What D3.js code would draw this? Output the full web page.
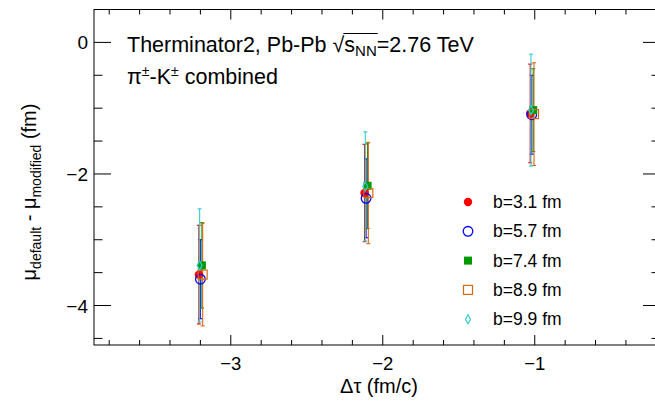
<!DOCTYPE html>
<html>
<head>
<meta charset="utf-8">
<script src="https://cdn.jsdelivr.net/npm/d3@7"></script>
<style>
  body { margin: 0; background: #fff; }
  svg { display: block; font-family: "Liberation Sans", Arial, Helvetica, sans-serif; }
</style>
</head>
<body>
<div class="chart"></div>
<script>

////////// DATA //////////

var seriesNames = ["b=3.1 fm", "b=5.7 fm", "b=7.4 fm", "b=8.9 fm", "b=9.9 fm"];

// delta tau positions (slightly shifted per series, as in the plot)
var xRed    = [-3.21, -2.12, -1.03];
var xBlue   = [-3.20, -2.11, -1.02];
var xGreen  = [-3.19, -2.10, -1.01];
var xOrange = [-3.185, -2.095, -1.005];
var xCyan   = [-3.205, -2.115, -1.025];

// mu_default - mu_modified (fm)
var yRed    = [-3.53, -2.29, -1.08];
var yBlue   = [-3.60, -2.37, -1.10];
var yGreen  = [-3.39, -2.18, -1.03];
var yOrange = [-3.53, -2.29, -1.09];
var yCyan   = [-3.39, -2.19, -1.03];

// errors
var eRed    = [0.75, 0.74, 0.75];
var eBlue   = [0.60, 0.60, 0.60];
var eGreen  = [0.65, 0.65, 0.63];
var eOrange = [0.78, 0.77, 0.78];
var eCyan   = [0.86, 0.83, 0.85];

var xTicks = [-3, -2, -1];
var yTicks = [0, -2, -4];


////////// SETUP //////////

var width = 655, height = 401;
var frame = { left: 94, right: 660, top: 9.5, bottom: 345 };

var x = d3.scaleLinear()
    .domain([-3.9, -0.176])
    .range([frame.left, frame.right]);

var y = d3.scaleLinear()
    .domain([-4.6, 0.5])
    .range([frame.bottom, frame.top]);

var series = [
  { name: seriesNames[0], xs: xRed,    ys: yRed,    es: eRed,    color: "#ff0000", marker: "circleFilled" },
  { name: seriesNames[1], xs: xBlue,   ys: yBlue,   es: eBlue,   color: "#0000ff", marker: "circleOpen" },
  { name: seriesNames[2], xs: xGreen,  ys: yGreen,  es: eGreen,  color: "#009900", marker: "squareFilled" },
  { name: seriesNames[3], xs: xOrange, ys: yOrange, es: eOrange, color: "#d46a16", marker: "squareOpen" },
  { name: seriesNames[4], xs: xCyan,   ys: yCyan,   es: eCyan,   color: "#33cccc", marker: "diamondOpen" }
];

var svg = d3.select(".chart")
    .append("svg")
    .attr("width", width)
    .attr("height", height);


////////// AXES / FRAME //////////

var axes = svg.append("g").attr("class", "axes")
    .attr("stroke", "#000")
    .attr("stroke-width", 1)
    .attr("fill", "none");

axes.append("rect")
    .attr("x", frame.left)
    .attr("y", frame.top)
    .attr("width", frame.right - frame.left)
    .attr("height", frame.bottom - frame.top);

var xMinor = d3.range(-3.8, -0.15, 0.2);
var yMinor = d3.range(-4.5, 0.51, 0.5);

function isMajor(v, list) {
  return list.some(function(t) { return Math.abs(t - v) < 1e-6; });
}

// x ticks (bottom and top)
xMinor.forEach(function(v) {
  var len = isMajor(v, xTicks) ? 10 : 5;
  axes.append("line")
      .attr("x1", x(v)).attr("x2", x(v))
      .attr("y1", frame.bottom).attr("y2", frame.bottom - len);
  axes.append("line")
      .attr("x1", x(v)).attr("x2", x(v))
      .attr("y1", frame.top).attr("y2", frame.top + len);
});

// y ticks (left and right)
yMinor.forEach(function(v) {
  var len = isMajor(v, yTicks) ? 17 : 8.5;
  axes.append("line")
      .attr("x1", frame.left).attr("x2", frame.left + len)
      .attr("y1", y(v)).attr("y2", y(v));
  axes.append("line")
      .attr("x1", frame.right).attr("x2", frame.right - len)
      .attr("y1", y(v)).attr("y2", y(v));
});

function fmt(v) { return v < 0 ? "\u2212" + Math.abs(v) : String(v); }

svg.append("g").attr("class", "xlabels")
  .selectAll("text")
    .data(xTicks)
    .enter()
    .append("text")
    .attr("x", x)
    .attr("y", 369.5)
    .attr("text-anchor", "middle")
    .attr("font-size", 18.5)
    .text(fmt);

svg.append("g").attr("class", "ylabels")
  .selectAll("text")
    .data(yTicks)
    .enter()
    .append("text")
    .attr("x", 88)
    .attr("y", function(d) { return y(d) + 7; })
    .attr("text-anchor", "end")
    .attr("font-size", 19)
    .text(fmt);

// x title
svg.append("text")
    .attr("x", 379)
    .attr("y", 393)
    .attr("text-anchor", "middle")
    .attr("font-size", 20)
    .text("\u0394\u03c4 (fm/c)");

// y title
var yt = svg.append("text")
    .attr("transform", "translate(36," + 192 + ") rotate(-90)")
    .attr("text-anchor", "middle")
    .attr("font-size", 20);
yt.append("tspan").text("\u03bc");
yt.append("tspan").attr("font-size", 14).attr("dy", 5).text("default");
yt.append("tspan").attr("dy", -5).text(" - \u03bc");
yt.append("tspan").attr("font-size", 14).attr("dy", 5).text("modified");
yt.append("tspan").attr("dy", -5).text(" (fm)");


////////// ANNOTATION //////////

var note = svg.append("g").attr("class", "note").attr("font-size", 21.5);

var line1 = note.append("text").attr("x", 127).attr("y", 52);
line1.append("tspan").text("Therminator2, Pb-Pb ");
line1.append("tspan").text("\u221a");
line1.append("tspan").text("s");
line1.append("tspan").attr("font-size", 15).attr("dy", 4).text("NN");
line1.append("tspan").attr("dy", -4).text("=2.76 TeV");

// overline of the square root, spanning s_NN
var t1 = line1.node();
var rootEnd = t1.getEndPositionOfChar(20).x;
var nnEnd = t1.getEndPositionOfChar(23).x;
note.append("line")
    .attr("x1", rootEnd - 1).attr("x2", nnEnd + 1)
    .attr("y1", 33.5).attr("y2", 33.5)
    .attr("stroke", "#000").attr("stroke-width", 1.2);

var line2 = note.append("text").attr("x", 127).attr("y", 84);
line2.append("tspan").text("\u03c0");
line2.append("tspan").attr("font-size", 14).attr("dy", -8).text("\u00b1");
line2.append("tspan").attr("dy", 8).text("-K");
line2.append("tspan").attr("font-size", 14).attr("dy", -8).text("\u00b1");
line2.append("tspan").attr("dy", 8).text(" combined");


////////// MARKERS //////////

function drawMarker(g, type, cx, cy, color) {
  if (type === "circleFilled") {
    g.append("circle").attr("cx", cx).attr("cy", cy).attr("r", 4.2).attr("fill", color);
  } else if (type === "circleOpen") {
    g.append("circle").attr("cx", cx).attr("cy", cy).attr("r", 4.8)
        .attr("fill", "none").attr("stroke", color).attr("stroke-width", 1.3);
  } else if (type === "squareFilled") {
    g.append("rect").attr("x", cx - 4).attr("y", cy - 4).attr("width", 8).attr("height", 8).attr("fill", color);
  } else if (type === "squareOpen") {
    g.append("rect").attr("x", cx - 4.5).attr("y", cy - 4.5).attr("width", 9).attr("height", 9)
        .attr("fill", "none").attr("stroke", color).attr("stroke-width", 1.2);
  } else {
    g.append("path")
        .attr("d", "M" + cx + "," + (cy - 4.5) + "L" + (cx + 2.5) + "," + cy + "L" + cx + "," + (cy + 4.5) + "L" + (cx - 2.5) + "," + cy + "Z")
        .attr("fill", "none").attr("stroke", color).attr("stroke-width", 1.2);
  }
}

var plot = svg.append("g").attr("class", "points");

// error bars first
series.forEach(function(s) {
  var g = plot.append("g").attr("stroke", s.color).attr("stroke-width", 1.1);
  s.xs.forEach(function(xv, i) {
    var px = x(xv), top = y(s.ys[i] + s.es[i]), bot = y(s.ys[i] - s.es[i]);
    g.append("line").attr("x1", px).attr("x2", px).attr("y1", top).attr("y2", bot);
    g.append("line").attr("x1", px - 2).attr("x2", px + 2).attr("y1", top).attr("y2", top);
    g.append("line").attr("x1", px - 2).attr("x2", px + 2).attr("y1", bot).attr("y2", bot);
  });
});

series.forEach(function(s) {
  var g = plot.append("g");
  s.xs.forEach(function(xv, i) {
    drawMarker(g, s.marker, x(xv), y(s.ys[i]), s.color);
  });
});


////////// LEGEND //////////

var legend = svg.append("g").attr("class", "legend");

series.forEach(function(s, i) {
  var ly = 202 + i * 29.3;
  drawMarker(legend, s.marker, 468, ly, s.color);
  legend.append("text")
      .attr("x", 493)
      .attr("y", ly + 6)
      .attr("font-size", 17.5)
      .text(s.name);
});

</script>
</body>
</html>
